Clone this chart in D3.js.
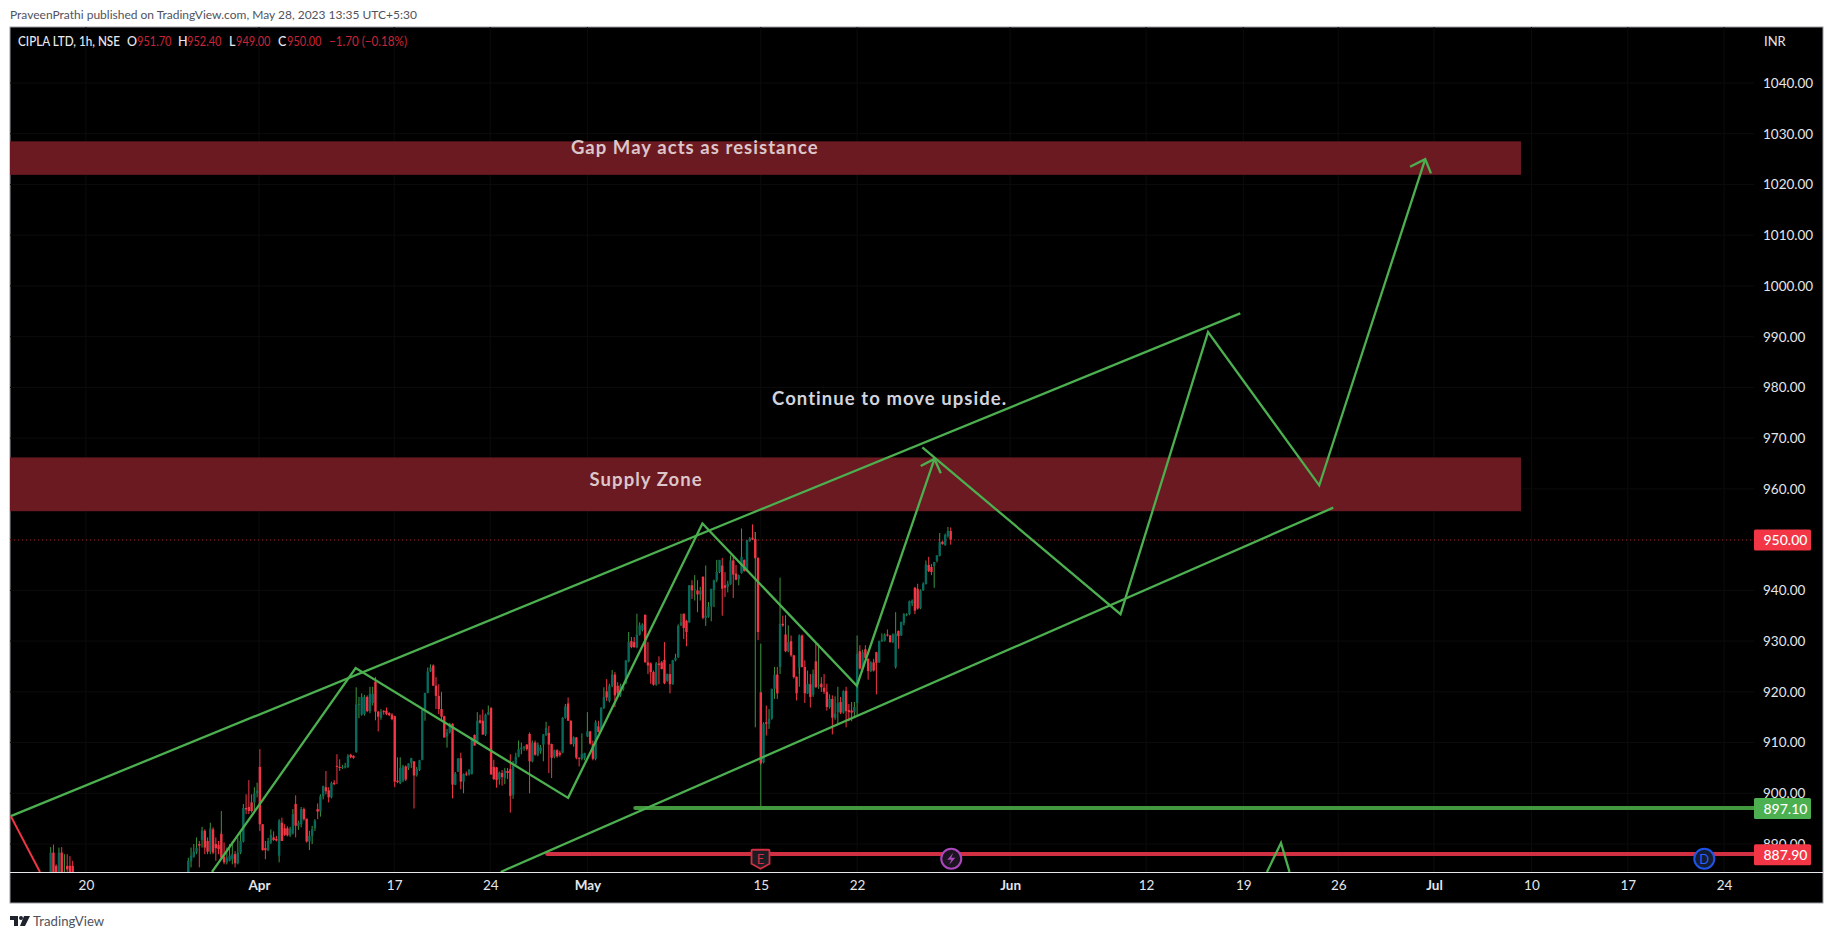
<!DOCTYPE html>
<html>
<head>
<meta charset="utf-8">
<title>CIPLA LTD, 1h, NSE</title>
<script src="https://cdn.jsdelivr.net/npm/d3@7"></script>
<style>
  html, body { margin: 0; padding: 0; background: #fff; }
  svg { display: block; }
  text { font-family: Lato, "Open Sans", sans-serif; }
</style>
</head>
<body>
<div id="chart"></div>
<script>
// candles are [open, high, low, close]
var marchCandles = [
  [882,889.4,880,888.3],[888.3,889.9,881,883],[885.7,886,882,883],[883,889.3,882,888.3],[888.3,889.4,882,883],
  [883,888,882.5,884],[885.7,888,883,885],[885.7,887.6,883,884],[885.7,886.7,883,884.5]
];
var aprilCandles = [
  [884.2,887.3,884,886.7],[886.6,889.3,885.4,887.7],[887.5,890,887.3,888.5],[888.4,891.3,888,889.2],[890,890.6,885.4,889.7],
  [890.8,893.4,889.3,892.7],[892.6,892.9,888,889.3],[890.6,891.3,888,888.5],[888.5,894.2,888,893.1],[892.9,893.3,888,888.3],
  [890,891.3,886.7,889.2],[889.8,890.6,888,889],[892,892.5,887.2,887.3],[887.5,890.3,886,886.4],[886.4,889.3,886,887.3],
  [886.7,890,886.6,887.7],[887,890.6,886,888],[888,888.6,885.4,886.2],[886.2,891.3,886,888.3],[888.3,892.6,888,890.6],
  [890.5,897.9,890.3,897.1],[897.1,899.8,895.9,896.8],[897.3,902.6,895.9,896.5],[898.2,899.8,896.2,896.5],[898.2,901.2,896.5,900],
  [900,902.1,899.2,900.5],[905.2,908.7,892.6,893.9],[893.9,893.9,888.7,888.8],[889.2,890.6,887,888.8],[888.8,891.2,888.6,890.6],
  [890.3,892.9,890,891.8],[891.3,892.5,890.6,890.8],[891,891.6,890.5,890.7],[887.7,894.9,886.4,894.6],[894.2,895.2,890.6,890.6],
  [893.1,893.9,891.6,891.8],[893.1,893.5,891.5,891.7],[891.7,893.4,891.4,893],[892.1,896.9,891.9,895.9],[897.9,899.6,891.3,893.6],
  [893.6,894.6,892.8,894.2],[893.9,897.3,893.3,896.9],[896.9,897.2,894.6,894.9],[895,895,890.3,890.5],[890.5,892.6,888.8,891.6],
  [891.6,893.6,890,892.9],[893.1,894.9,892.6,894.6],[896.9,898,894.9,896.4],[896.4,899.8,895.4,899.4],[899.4,901.5,898.8,901.4],
  [901.2,904.4,899.8,900.4],[900.6,901.2,898.2,899.2],[899.2,902.3,899,902],[902.1,902.6,901.6,901.8],[905.4,907.7,901.8,905.2],
  [905.2,906.7,904.4,905],[905,905.6,904.8,905.2],[905.1,906,904.9,905.4],[905.2,907.7,905,907.4],[907.6,907.8,906.9,907.1],
  [907.4,907.5,906.8,907],[908.1,920.9,908,917.5],[917.4,919,914.8,917.6],[915.5,919.7,915.3,919],[915.6,919.4,915.3,919],
  [919,919.3,916,916.2],[916.2,921,915.8,919.6],[917.8,921,917.3,919.6],[922,922.9,914.4,916.1],[916.1,916.2,912.2,915.1],
  [914.9,916.6,914.5,916.1],[916.2,916.4,915.5,916],[916.3,916.9,915.4,915.6],[915.8,916,915.2,915.4],[915.5,915.8,914.4,914.6],
  [915.2,915.3,901.2,902.3],[902.5,907.1,902,902.2],[902,907.1,901.8,905],[902.5,905.6,902.2,905.3],[905.3,905.5,902.4,902.7],
  [905,905.9,904.6,905.9],[906,907,905,906.9],[906.3,906.3,897,903.5],[903.6,905.2,903.3,904.8],[904.6,906.6,904.4,906.5],
  [906.6,916.5,906.5,916.5],[916.5,919.8,914.3,919.8],[919.8,924.8,919.7,924],[924,925.4,923.9,924.8],[925.2,925.4,921.2,921.2],
  [921.2,922.9,916.6,919.2],[919.2,921.5,915.6,916.6],[916.6,920,914.3,915.1],[915.2,915.3,911,911],[911.2,912.7,909,912],
  [912,913.9,911.8,913.7],[913.7,913.8,899,901.7],[901.7,904.2,901.6,903.9],[904.3,906.9,904.2,906.9],[906.9,908,900.8,902.3],
  [902.3,903.9,900,903.8],[903.9,904.3,903.4,903.7],[903.7,904.8,903.5,904.6],[903.8,911,903.7,910.8],[911.5,911.6,909.4,909.4],
  [910,916,909.7,914.3],[914.4,915.5,913.7,913.9],[914.3,916.5,911.5,911.6],[911.6,915.7,911.3,915.5],[915.5,917.3,915.4,916],
  [916.8,917,903.7,903.7],[905.2,906.6,902.6,902.8],[905.1,905.2,901.1,902.6],[902.8,904.3,901.7,904.1]
];
var mayCandles = [
  [904,904.6,901.5,903.2],[903,905,901.8,904.5],[904.4,905,902.8,904],[904.8,907.7,896.2,899.5],[899.7,906.4,898.9,905.4],
  [905.8,908,905.4,907.2],[907.2,910.4,907.1,908.7],[908.7,910,907.7,909],[909,909.3,908.4,909.2],[909.6,909.7,908.4,908.7],
  [911.7,912,900,906.3],[906.3,910.4,906.1,910],[910,910.4,907.4,907.6],[907.6,910,907.3,909.6],[908.3,909.5,907.8,909],
  [909.6,911.7,906.3,911.6],[911.5,914.1,911.3,912.9],[911.9,913.3,904,909.6],[909.7,909.8,903,907],[907.2,908.6,906.9,908.5],
  [908.5,908.7,907,907.3],[908,908.4,907.2,907.6],[908,915,907.9,914.9],[914.9,917.6,914.7,917.1],[917.7,918.9,914.3,914.3],
  [914.3,914.4,909.6,909.7],[909.7,911.2,909.2,911],[911,911.1,906.7,907],[907,907.1,905.3,906.8],[906.8,911.8,906.5,907.8],
  [906.9,908,906.5,907.9],[911.2,916,911.1,912.2],[912.2,912.3,909.6,909.8],[909.7,910.4,906.5,906.8],[906.8,914.4,906.5,914],
  [913.2,914.3,912,912.1],[912.6,917,912.2,916.8],[916.8,920.9,916.6,919],[920.1,922.5,918.2,918.9],[918.2,921.6,917.9,921.2],
  [921.2,924.3,920.9,923.4],[923.4,923.9,917,919.3],[921.2,921.9,919.2,919.8],[919.3,921.6,919,921.2],[920.5,921.3,920.2,921],
  [921.7,926.2,921.5,926.2],[926,931.8,925.8,929.8],[930,930.8,928.6,928.8],[929.8,930.8,928.7,928.8],[928.8,935.4,928.6,931.3],
  [931.3,933.7,931.1,933.1],[932.2,933.5,931.9,933.3],[935.2,935.2,925.8,925.8],[925.8,929.8,923.5,925.2],[925.6,925.8,921.6,923.9],
  [923.9,924.2,921.2,921.4],[921.4,925.9,921.2,925.6],[925.6,927,921.5,925.3],[925.8,926.1,924.4,924.5],[926.3,929.8,921.5,921.7],
  [922.2,923.6,922,923.5],[923.5,925.5,919.7,921.5],[921.5,926.3,921.4,926.2],[926.2,927.5,926,926.7],[926.8,933.3,926.7,933],
  [933.1,935.4,933,933.7],[935.4,935.4,930.4,932.6],[934,934.2,929,931.8],[933.7,941,933.6,941],[941,942,938.3,940],
  [940,943,938,940.2],[940,942,935.7,939.2],[939.2,940.7,938,939.9],[942.7,942.7,934.3,934.6],[934.6,944.9,933,935],
  [934.8,937.7,934.6,936.8],[936.8,940.3,933.9,940.3],[940.1,942.1,936.7,942],[942,946,941.6,943.6],[943.6,946,943.4,946],
  [944.9,946.4,935,940.3],[941,943.6,938.7,940.5],[940.7,941.9,939.6,941.3],[941.2,946.9,941.1,945.9],[945.9,946.7,938.5,943.1],
  [943.3,945,942,942.1],[942.2,943.1,941,943],[943.4,952.2,943.3,946.6],[946,946.1,943.7,943.8],[943.9,949.9,943.7,949.9],
  [949.7,950.5,949.6,950.2],[950.4,953,949.9,950],[950.1,951.5,946.2,946.4],[946.4,946.5,930.2,931.8]
];
var lateMayCandles = [
  [919.9,919.9,905.6,905.9],[906.1,914,905.9,913.7],[914,917.3,911.4,913.7],[913.7,916.6,912.7,914.7],[914.7,920.6,914.5,920.6],
  [920.6,924.9,918.6,923.4],[923.4,924.9,918.6,919.7],[924.9,942.5,923.5,933.4],[933.4,935,932.8,933.1],[931.3,935.1,927.8,928],
  [928,933.1,927.8,929.8],[930,931.1,926.9,927.2],[927.2,927.3,922.6,922.9],[923,923,918.3,919.7],[924.8,931.3,923.5,931.1],
  [931.1,931.3,924.8,924.9],[924.9,926.2,917.8,919.7],[919.7,924.2,919.6,921.6],[921.5,923.5,916.9,919],[919.4,924.4,919,923.5],
  [926,929.5,920.8,920.9],[921.1,929.5,920.6,921.4],[921.6,922.9,920,920.9],[920.8,923.5,919.6,920],[920,921.6,916.3,917],
  [917,919.5,916.7,918.6],[918.6,919.3,911.6,914.9],[914.9,919.1,914.5,915.7],[916,921,913.7,917.8],[918,919,915.6,915.9],
  [915.9,920.3,915.7,920.1],[920.2,921,913,916.2],[916.4,917.6,914.2,916],[916.3,918,914.2,915.9],[916,918,915,917],
  [917.8,931.1,915.3,927.5],[928,929.2,924.4,924.6],[924.6,928.3,924.4,927.8],[928.4,929.2,926.5,926.7],[926.5,926.6,922.4,924.1],
  [924.1,926,923.9,925.8],[925.8,926.5,924,924.2],[927.8,927.9,919.5,925.7],[925.9,930.1,925.7,930],[930,931.5,929.8,930.3],
  [930.1,931.5,929.9,931.3],[931.3,932.3,930.9,931.1],[931.1,931.2,929.7,929.8],[929.8,931.5,929.6,931.3],[924.9,935.7,924.6,931.5],
  [932,932.1,928.5,931],[931.1,933.8,931,933.8],[933.6,935.5,933.1,935.3],[935.1,935.5,934.9,935.3],[935.3,938,935.1,937.9],
  [937.4,938.2,936.9,938],[940.5,940.7,935.3,936],[940.3,941.3,936.2,936.4],[936.5,940.2,936.3,940],[940,941.6,939.9,941.3],
  [941.2,945.9,941.2,945.1],[945,946.6,943.6,943.8],[944.6,945.2,943,943.6],[944.8,945.6,940.5,945.6],[945.8,946.9,945.5,946.9],
  [946.8,951.3,946.7,949.5],[949.6,949.7,949,949.1],[948.9,951.2,948.8,950.9],[950.7,952.5,950.4,951.7],[951.7,952.4,949,950]
];

// [bar, high, low] of the thin green wicks that stand apart from their bodies
var greenWicks = [[12,896.5,892],[206,951.5,913],[208,929.5,897.1],[222,929.5,921]];

// bar index of each candle group's first candle
var marchStart = -50, aprilStart = 0, mayStart = 114, lateMayStart = 208;

var priceTicks = [1040,1030,1020,1010,1000,990,980,970,960,950,940,930,920,910,900,890];
var timeBars = [-37.2,25.7,74.8,109.7,145,208,243,298.6,348,383.3,417.8,452.6,488,523,558];
var timeLabels = ["20","Apr","17","24","May","15","22","Jun","12","19","26","Jul","10","17","24"];
var boldLabels = ["Apr","May","Jun","Jul"];

// drawings as [bar, price]
var upperChannel = [[-64.5,895.5],[382.2,994.6]];
var lowerChannel = [[113.5,884.5],[416,956.3]];
var firstZigzag = [[8.6,884.5],[60.8,924.7],[138,899.1],[186.8,953.2],[242.9,921.2],[271.1,965.9]];
var firstArrowHead = [[266.1,964.5],[271.1,965.9],[273.4,963.1]];
var secondZigzag = [[266.7,968.2],[338.7,935.3],[370.5,990.9],[410.9,960.7],[449.4,1025]];
var secondArrowHead = [[443.9,1023.5],[449.4,1025],[451.5,1022.2]];
var smallPeak = [[391.9,884.5],[397,890.2],[400.1,884.5]];
var redStroke = [[-64.5,895.5],[-53.9,884.5]];

var zoneTops = [1028.5,966.2];
var zoneBottoms = [1021.9,955.6];
var zoneEndBar = 484.2;
var noteTexts = ["Gap May acts as resistance","Supply Zone","Continue to move upside."];
var noteBars = [139,145.8,212.1];
var notePrices = [1026,960.6,976.5];

var supportPrice = 897.1, supportStart = 162.4;
var stopPrice = 887.9, stopStart = 130.4;
var lastPrice = 950;

var legendLabels = ["O","H","L","C"];
var legendValues = ["951.70","952.40","949.00","950.00"];

var W = 1834, H = 939;
var frame = {left: 10, top: 27, right: 1823, bottom: 903};
var plotRight = 1754, plotBottom = 872;
var GREEN = "#4caf50", RED = "#f23645", TEAL = "#07695c", ZONE = "#6b1a21", AXIS_TEXT = "#e4e6eb";

var x = d3.scaleLinear().domain([0,277]).range([188.3,950.7]);
var y = d3.scaleLinear().domain([900,1040]).range([793.3,83]);

var svg = d3.select("#chart").append("svg").attr("width",W).attr("height",H);
svg.append("rect").attr("width",W).attr("height",H).attr("fill","#fff");

svg.append("rect")
  .attr("x",frame.left).attr("y",frame.top)
  .attr("width",frame.right-frame.left).attr("height",frame.bottom-frame.top)
  .attr("fill","#000").attr("stroke","#9a9ca3").attr("stroke-width",1);

svg.append("clipPath").attr("id","plot-clip").append("rect")
  .attr("x",frame.left).attr("y",frame.top)
  .attr("width",plotRight-frame.left).attr("height",plotBottom-frame.top);

var plot = svg.append("g").attr("clip-path","url(#plot-clip)");

// faint grid
plot.selectAll(".hgrid").data(priceTicks).join("line").attr("class","hgrid")
  .attr("x1",frame.left).attr("x2",plotRight).attr("y1",d=>y(d)).attr("y2",d=>y(d))
  .attr("stroke","#0c0c0c");
plot.selectAll(".vgrid").data(timeBars).join("line").attr("class","vgrid")
  .attr("x1",d=>x(d)).attr("x2",d=>x(d)).attr("y1",frame.top).attr("y2",plotBottom)
  .attr("stroke","#0c0c0c");

// candles
function indexed(rows,start){
  return rows.map(function(r,i){
    return {bar:start+i, open:r[0], high:r[1], low:r[2], close:r[3]};
  });
}
var candles = indexed(marchCandles,marchStart)
  .concat(indexed(aprilCandles,aprilStart))
  .concat(indexed(mayCandles,mayStart))
  .concat(indexed(lateMayCandles,lateMayStart));

plot.selectAll(".wick").data(candles).join("line").attr("class","wick")
  .attr("x1",d=>x(d.bar)).attr("x2",d=>x(d.bar))
  .attr("y1",d=>y(d.high)).attr("y2",d=>y(d.low))
  .attr("stroke",d=>d.close>=d.open ? "#3c963f" : RED);

plot.selectAll(".extra-wick").data(greenWicks).join("line").attr("class","extra-wick")
  .attr("x1",d=>x(d[0])).attr("x2",d=>x(d[0]))
  .attr("y1",d=>y(d[1])).attr("y2",d=>y(d[2]))
  .attr("stroke","#3c963f");

plot.selectAll(".body").data(candles).join("rect").attr("class","body")
  .attr("x",d=>x(d.bar)-1.2).attr("width",2.4)
  .attr("y",d=>y(Math.max(d.open,d.close)))
  .attr("height",d=>Math.max(1,Math.abs(y(d.open)-y(d.close))))
  .attr("fill",d=>d.close>=d.open ? TEAL : RED);

// last price line
plot.append("line")
  .attr("x1",frame.left).attr("x2",plotRight).attr("y1",y(lastPrice)+0.5).attr("y2",y(lastPrice)+0.5)
  .attr("stroke",RED).attr("stroke-opacity",0.65).attr("stroke-dasharray","1 3");

// zones
plot.selectAll(".zone").data(zoneTops).join("rect").attr("class","zone")
  .attr("x",frame.left).attr("width",x(zoneEndBar)-frame.left)
  .attr("y",d=>y(d)).attr("height",(d,i)=>y(zoneBottoms[i])-y(d))
  .attr("fill",ZONE);

// support and stop lines
plot.append("line").attr("x1",x(supportStart)).attr("x2",plotRight)
  .attr("y1",y(supportPrice)).attr("y2",y(supportPrice))
  .attr("stroke","#43983f").attr("stroke-width",4).attr("stroke-linecap","round");
plot.append("line").attr("x1",x(stopStart)).attr("x2",plotRight)
  .attr("y1",y(stopPrice)-0.8).attr("y2",y(stopPrice)-0.8)
  .attr("stroke","#d12f42").attr("stroke-width",4).attr("stroke-linecap","round");

// trend lines and arrows
var pathLine = d3.line().x(d=>x(d[0])).y(d=>y(d[1]));
[upperChannel,lowerChannel,firstZigzag,firstArrowHead,secondZigzag,secondArrowHead,smallPeak].forEach(function(pts){
  plot.append("path").attr("d",pathLine(pts))
    .attr("fill","none").attr("stroke",GREEN).attr("stroke-width",2.3).attr("stroke-linejoin","miter");
});
plot.append("path").attr("d",pathLine(redStroke))
  .attr("fill","none").attr("stroke",RED).attr("stroke-width",2);

// notes
plot.selectAll(".note").data(noteTexts).join("text").attr("class","note")
  .attr("x",(d,i)=>x(noteBars[i])).attr("y",(d,i)=>y(notePrices[i]))
  .attr("fill",(d,i)=>i==2 ? "#d1d4dc" : "#dcc6ca")
  .attr("font-size",18.5).attr("font-weight",700).attr("letter-spacing",1.05)
  .text(d=>d);

// event markers
var earningsBar = 207.9, splitsBar = 277.2, dividendBar = 550.8, markerPrice = 887.1;
var earnings = svg.append("g").attr("transform","translate("+x(earningsBar)+","+y(markerPrice)+")");
earnings.append("path").attr("d","M-8,-9H8a1,1 0 0 1 1,1V5L0,10L-9,5V-8a1,1 0 0 1 1,-1Z")
  .attr("fill","#1c1c24").attr("stroke","#d12f42").attr("stroke-width",1.8);
earnings.append("text").attr("text-anchor","middle").attr("y",5).attr("fill","#d12f42").attr("font-size",13).text("E");

var split = svg.append("g").attr("transform","translate("+x(splitsBar)+","+y(markerPrice)+")");
split.append("circle").attr("r",10).attr("fill","#1a1420").attr("stroke","#ab47bc").attr("stroke-width",2);
split.append("path").attr("d","M2,-6L-4,1H0L-2,6L4,-1H0Z").attr("fill","#ab47bc");

var dividend = svg.append("g").attr("transform","translate("+x(dividendBar)+","+y(markerPrice)+")");
dividend.append("circle").attr("r",10).attr("fill","#131c30").attr("stroke","#1e53e5").attr("stroke-width",2);
dividend.append("text").attr("text-anchor","middle").attr("y",5).attr("fill","#2962ff").attr("font-size",13).text("D");

// price axis
var priceAxis = d3.axisRight(y).tickValues(priceTicks).tickSize(0).tickPadding(0).tickFormat(d3.format(".2f"));
var priceG = svg.append("g").attr("transform","translate(1763,0)").call(priceAxis);
priceG.select(".domain").remove();
priceG.selectAll("text").attr("fill",AXIS_TEXT).attr("font-size",13.5).attr("font-family","Lato, sans-serif").attr("x",0);

svg.append("text").attr("x",1764).attr("y",46).attr("fill",AXIS_TEXT).attr("font-size",13).text("INR");

// price labels
var priceBoxes = [[lastPrice,RED],[supportPrice,GREEN],[stopPrice,RED]];
priceBoxes.forEach(function(b){
  var cy = y(b[0])+ (b[0]==stopPrice ? 0 : 0.5);
  svg.append("rect").attr("x",plotRight).attr("y",cy-10.5).attr("width",57).attr("height",21).attr("rx",1.5).attr("fill",b[1]);
  svg.append("text").attr("x",plotRight+9.5).attr("y",cy+5).attr("fill","#fff").attr("font-size",14).attr("font-weight",500)
    .text(d3.format(".2f")(b[0]));
});

// time axis
svg.append("line").attr("x1",frame.left).attr("x2",frame.right).attr("y1",plotBottom+0.5).attr("y2",plotBottom+0.5).attr("stroke","#e8e8ec");
var timeAxis = d3.axisBottom(x).tickValues(timeBars).tickSize(0).tickPadding(0)
  .tickFormat(function(d){ return timeLabels[timeBars.indexOf(d)]; });
var timeG = svg.append("g").attr("transform","translate(0,"+(plotBottom+8)+")").call(timeAxis);
timeG.select(".domain").remove();
timeG.selectAll("text").attr("fill",AXIS_TEXT).attr("font-size",13.5).attr("font-family","Lato, sans-serif")
  .attr("font-weight",d=>boldLabels.indexOf(timeLabels[timeBars.indexOf(d)])>=0 ? 700 : 400);

// header and legend
svg.append("text").attr("x",10).attr("y",19).attr("fill","#50535e").attr("font-size",12)
  .text("PraveenPrathi published on TradingView.com, May 28, 2023 13:35 UTC+5:30");

svg.append("text").attr("x",18).attr("y",46).attr("fill","#e8e9ee").attr("font-size",12.5).attr("font-weight",500)
  .attr("textLength",102).attr("lengthAdjust","spacingAndGlyphs")
  .text("CIPLA LTD, 1h, NSE");
var labelX = [127,178,229,278], valueX = [137,187,236,287];
legendLabels.forEach(function(l,i){
  svg.append("text").attr("x",labelX[i]).attr("y",46).attr("fill","#e8e9ee").attr("font-size",12.5).attr("font-weight",500).text(l);
  svg.append("text").attr("x",valueX[i]).attr("y",46).attr("fill","#c9253a").attr("font-size",12.5)
    .attr("textLength",34.5).attr("lengthAdjust","spacingAndGlyphs").text(legendValues[i]);
});
svg.append("text").attr("x",329).attr("y",46).attr("fill","#c9253a").attr("font-size",12.5)
  .attr("textLength",78).attr("lengthAdjust","spacingAndGlyphs").text("\u22121.70 (\u22120.18%)");

// logo
var logo = svg.append("g").attr("transform","translate(10,916)").attr("fill","#1e222d");
logo.append("path").attr("d","M0,0H8V10H4V4H0Z");
logo.append("circle").attr("cx",11).attr("cy",2).attr("r",2);
logo.append("path").attr("d","M14,0H20L15,10H10Z");
svg.append("text").attr("x",33).attr("y",926).attr("fill","#50535e").attr("font-size",13.2).text("TradingView");
</script>
</body>
</html>
